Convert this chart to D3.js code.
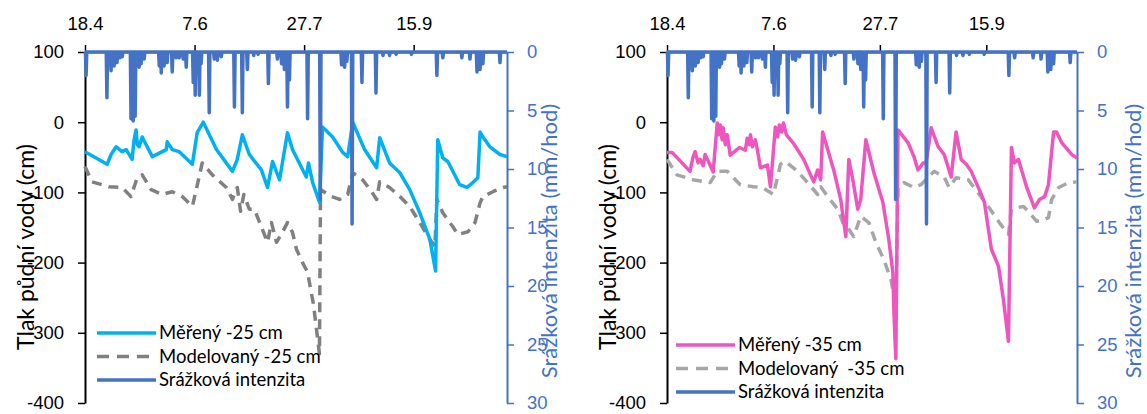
<!DOCTYPE html>
<html>
<head>
<meta charset="utf-8">
<script src="https://cdn.jsdelivr.net/npm/d3@7"></script>
<style>
  html, body { margin: 0; padding: 0; background: #fff; }
  svg { display: block; font-family: Lato, "Open Sans", sans-serif; }
</style>
</head>
<body>
<svg id="chart" width="1147" height="414"></svg>
<script>
// Time axis: days since 18.4, one tick every 50 days
const dayTicks = [0, 50, 100, 150];
const dayTickLabels = ["18.4", "7.6", "27.7", "15.9"];
const dayEnd = 192.6;

// Left axis: soil water pressure (cm)
const pressureTicks = [100, 0, -100, -200, -300, -400];
// Right axis: rainfall intensity (mm/hod), reversed
const rainTicks = [0, 5, 10, 15, 20, 25, 30];

// Rainfall intensity events (day, mm/hod) – shared by both panels
const rainDays = [0.5, 10, 11.9, 13.3, 14.6, 15.9, 17, 21, 22, 22.9, 24.7, 25.6, 27, 33.9, 34.8, 36.1, 37.5, 39.8, 41.6, 43, 44.8, 46.2, 49.4, 50.3, 52.2, 53, 56.7, 59, 60.4, 62.2, 68.2, 71.8, 74.1, 77, 79, 83.7, 87.8, 89.7, 91, 92.4, 93.3, 101.6, 107.4, 117.1, 118.5, 119.5, 121.9, 126.4, 132.8, 136, 139, 142, 149, 160.6, 163.3, 172, 175.7, 178.9, 180.3, 181.6, 189.4];
const rainVals = [2.0, 3.9, 1.6, 1.2, 0.9, 0.5, 0.4, 5.7, 5.9, 5.5, 1.3, 1.0, 0.6, 1.2, 1.8, 1.2, 0.9, 1.7, 0.5, 0.5, 0.6, 1.3, 2.6, 3.7, 3.7, 1.0, 5.2, 0.6, 0.7, 0.4, 4.7, 5.2, 1.5, 0.3, 0.2, 2.7, 0.6, 1.0, 1.5, 4.7, 2.4, 5.7, 12.6, 1.1, 1.3, 0.8, 14.7, 2.6, 3.5, 0.3, 0.3, 0.2, 0.2, 2.0, 0.5, 0.5, 0.6, 1.7, 1.5, 1.0, 0.9];

// Measured pressure at -25 cm
const meas25Days = [0, 10.1, 11.9, 14.2, 16.9, 18.8, 21.5, 22.4, 23.3, 23.9, 24.7, 26.1, 30.7, 37.1, 37.5, 39.8, 43, 49, 51.2, 54, 60, 67.3, 69.5, 71.8, 75, 80.5, 83.3, 85.6, 88.8, 92.4, 94.7, 101, 102, 103.9, 107, 108.4, 113, 117.6, 119.9, 122.2, 127.6, 133.1, 134.5, 139, 143.7, 148.2, 152.8, 157.4, 160, 161, 163.3, 165.6, 171, 174.3, 177, 179.3, 180.3, 181.6, 184.8, 189.4, 192.6];
const meas25Vals = [-42, -60, -46, -35, -42, -39, -53, -25, -11, -32, -35, -21, -49, -39, -28, -39, -42, -60, -15, 0, -39, -70, -53, -18, -46, -68, -93, -56, -82, -15, -39, -78, -58, -86, -114, -7, -21, -43, -49, 0, -39, -65, -22, -58, -72, -96, -129, -167, -212, -25, -51, -56, -89, -93, -86, -79, -14, -21, -35, -46, -49];

// Modelled pressure at -25 cm
const mod25Days = [0, 3.2, 11, 16.9, 21, 23.8, 26.1, 30.2, 35.2, 39.8, 44.4, 49, 50.8, 53.5, 58.1, 64.5, 67.3, 69.5, 71, 72.5, 75, 77.3, 80.5, 83.3, 85.1, 87.4, 90.1, 92.4, 94.7, 96.5, 99.3, 101.6, 104.3, 107, 107.5, 112.5, 116.2, 119.9, 122.2, 126.7, 130.8, 133.1, 134.5, 139, 143.7, 148.2, 152.8, 156.5, 159.7, 160.6, 163.3, 167.9, 170.2, 174.8, 178, 180.3, 181.6, 186.2, 190.8, 192.6];
const mod25Vals = [-63, -85, -92, -93, -106, -79, -75, -96, -103, -99, -106, -120, -96, -58, -75, -93, -110, -93, -127, -103, -124, -124, -149, -171, -143, -171, -157, -143, -157, -181, -200, -214, -260, -330, -96, -106, -110, -103, -72, -82, -99, -110, -85, -93, -106, -120, -143, -163, -177, -110, -129, -149, -160, -156, -143, -115, -106, -99, -93, -92];

// Measured pressure at -35 cm
const meas35Days = [0, 2.4, 10.8, 12.2, 13.2, 14.6, 15.6, 17, 17.9, 19.3, 21.7, 23.6, 24.5, 25, 25.9, 26.4, 27.4, 28.3, 29.7, 34, 36.8, 37.7, 38.7, 39.2, 40.1, 41.5, 42.5, 43.9, 47.2, 48.6, 50.9, 51.9, 52.8, 53.8, 54.7, 56.1, 59.4, 64.2, 68.9, 70.8, 72.2, 73.1, 75.5, 78.3, 81.6, 84, 85.4, 87.3, 89.6, 91, 93.4, 97.2, 101.4, 104.2, 106.1, 106.6, 107.5, 108.5, 113.2, 116, 117.9, 120.3, 121.7, 124.1, 127.4, 130.2, 133.5, 135.8, 138.2, 140.6, 142.9, 146.7, 149.1, 152.4, 155.7, 158, 160.4, 161.8, 163.2, 165.1, 168.9, 172.6, 175, 177.4, 179.2, 181.6, 183, 185.4, 190.1, 192.6];
const meas35Vals = [-43, -43, -70, -50, -42, -58, -53, -62, -46, -55, -71, -1, -18, -4, -25, -8, -32, -18, -47, -36, -40, -23, -32, -18, -35, -25, -40, -65, -61, -92, -7, -21, -4, -14, -1, -18, -30, -53, -85, -68, -82, -14, -39, -68, -110, -163, -53, -82, -124, -110, -25, -72, -114, -167, -214, -271, -337, -11, -29, -49, -68, -58, -58, -8, -35, -46, -78, -14, -53, -60, -70, -96, -114, -181, -205, -252, -312, -36, -58, -53, -92, -122, -110, -106, -89, -14, -14, -29, -46, -51];

// Modelled pressure at -35 cm
const mod35Days = [0, 4.7, 12.3, 20.3, 23.6, 28.3, 34.4, 40.6, 44.8, 50, 53.3, 55.7, 61.3, 66, 70.8, 72.2, 75.5, 80.2, 83, 84.9, 87.7, 91, 94.8, 98.1, 101.9, 105.2, 107.5, 108.5, 111.3, 116, 119.3, 125.5, 130.2, 132.5, 135.8, 141.5, 146.7, 150.9, 156.1, 160.4, 161.8, 164.1, 167.5, 170.3, 173.6, 176.9, 179.2, 180.7, 184, 188.7, 192.6];
const mod35Vals = [-53, -75, -82, -86, -70, -70, -89, -92, -93, -103, -60, -56, -70, -86, -103, -92, -106, -124, -146, -150, -163, -134, -143, -171, -196, -224, -262, -93, -86, -93, -89, -70, -78, -93, -79, -82, -103, -120, -143, -160, -124, -122, -120, -129, -141, -139, -136, -110, -93, -86, -85];

const rainColor = "#4472C4";

const panels = [
  {
    left: 85, right: 507,
    measDays: meas25Days, measVals: meas25Vals, measColor: "#00B0F0",
    modDays: mod25Days, modVals: mod25Vals, modColor: "#808080",
    labels: ["Měřený -25 cm", "Modelovaný -25 cm", "Srážková intenzita"],
    legendX: 97, legendY: 333, rightTitleOffset: 50
  },
  {
    left: 667, right: 1077,
    measDays: meas35Days, measVals: meas35Vals, measColor: "#EE55BE",
    modDays: mod35Days, modVals: mod35Vals, modColor: "#A6A6A6",
    labels: ["Měřený -35 cm", "Modelovaný  -35 cm", "Srážková intenzita"],
    legendX: 676, legendY: 345, rightTitleOffset: 64
  }
];

const svg = d3.select("#chart");
const plotTop = 52, plotBottom = 403;

panels.forEach(p => {
  const g = svg.append("g");
  const x = d3.scaleLinear().domain([0, dayEnd]).range([p.left, p.right]);
  const y = d3.scaleLinear().domain([-400, 100]).range([plotBottom, plotTop]);
  const yr = d3.scaleLinear().domain([0, 30]).range([plotTop, plotBottom]);

  // top time axis
  const topAx = g.append("g").attr("transform", `translate(0,${plotTop})`)
    .call(d3.axisTop(x).tickValues(dayTicks).tickFormat((d, i) => dayTickLabels[i])
      .tickSize(7).tickSizeOuter(0).tickPadding(15));
  topAx.select(".domain").attr("stroke", "#000").attr("stroke-width", 1.5);
  topAx.selectAll(".tick line").attr("stroke", "#000").attr("stroke-width", 1.5);
  topAx.selectAll("text").attr("font-size", 18.5).attr("fill", "#000");

  // left pressure axis
  const leftAx = g.append("g").attr("transform", `translate(${p.left},0)`)
    .call(d3.axisLeft(y).tickValues(pressureTicks).tickFormat(d => String(d))
      .tickSize(7).tickSizeOuter(0).tickPadding(14));
  leftAx.select(".domain").attr("stroke", "#000").attr("stroke-width", 2);
  leftAx.selectAll(".tick line").attr("stroke", "#000").attr("stroke-width", 1.5);
  leftAx.selectAll("text").attr("font-size", 18.5).attr("fill", "#000");

  // right rainfall axis
  const rightAx = g.append("g").attr("transform", `translate(${p.right},0)`)
    .call(d3.axisRight(yr).tickValues(rainTicks).tickSize(7).tickSizeOuter(0).tickPadding(13));
  rightAx.select(".domain").attr("stroke", rainColor).attr("stroke-width", 2);
  rightAx.selectAll(".tick line").attr("stroke", rainColor).attr("stroke-width", 1.5);
  rightAx.selectAll("text").attr("font-size", 18.5).attr("fill", rainColor);

  // axis titles
  g.append("text")
    .attr("transform", `translate(${p.left - 51},${247}) rotate(-90)`)
    .attr("text-anchor", "middle").attr("font-size", 23).attr("fill", "#000")
    .text("Tlak půdní vody (cm)");
  g.append("text")
    .attr("transform", `translate(${p.right + p.rightTitleOffset},${241}) rotate(-90)`)
    .attr("text-anchor", "middle").attr("font-size", 22).attr("fill", rainColor)
    .text("Srážková intenzita (mm/hod)");

  // modelled series (dashed)
  const line = d3.line().x(d => x(d[0])).y(d => y(d[1]));
  g.append("path")
    .datum(p.modDays.map((d, i) => [d, p.modVals[i]]))
    .attr("d", line).attr("fill", "none")
    .attr("stroke", p.modColor).attr("stroke-width", 3.5)
    .attr("stroke-dasharray", "10,7").attr("stroke-linejoin", "round");

  // measured series
  g.append("path")
    .datum(p.measDays.map((d, i) => [d, p.measVals[i]]))
    .attr("d", line).attr("fill", "none")
    .attr("stroke", p.measColor).attr("stroke-width", 3.5)
    .attr("stroke-linejoin", "round");

  // rainfall intensity: zero baseline with spikes at each event
  const rainPts = [[0, 0]];
  rainDays.forEach((d, i) => {
    rainPts.push([d - 0.3, 0], [d, rainVals[i]], [d + 0.3, 0]);
  });
  rainPts.push([dayEnd, 0]);
  g.append("path")
    .datum(rainPts)
    .attr("d", d3.line().x(d => x(d[0])).y(d => yr(d[1])))
    .attr("fill", "none").attr("stroke", rainColor).attr("stroke-width", 3.5)
    .attr("stroke-linejoin", "round");

  // legend
  const items = [
    { color: p.measColor, dash: null },
    { color: p.modColor, dash: "12,8" },
    { color: rainColor, dash: null }
  ];
  items.forEach((it, i) => {
    const ly = p.legendY + i * 23.5;
    g.append("line")
      .attr("x1", p.legendX).attr("x2", p.legendX + 59)
      .attr("y1", ly).attr("y2", ly)
      .attr("stroke", it.color).attr("stroke-width", 3.5)
      .attr("stroke-dasharray", it.dash);
    g.append("text")
      .attr("x", p.legendX + 62).attr("y", ly).attr("dy", "0.35em")
      .attr("font-size", 18.5).attr("fill", "#000")
      .attr("xml:space", "preserve").style("white-space", "pre")
      .text(p.labels[i]);
  });
});
</script>
</body>
</html>
